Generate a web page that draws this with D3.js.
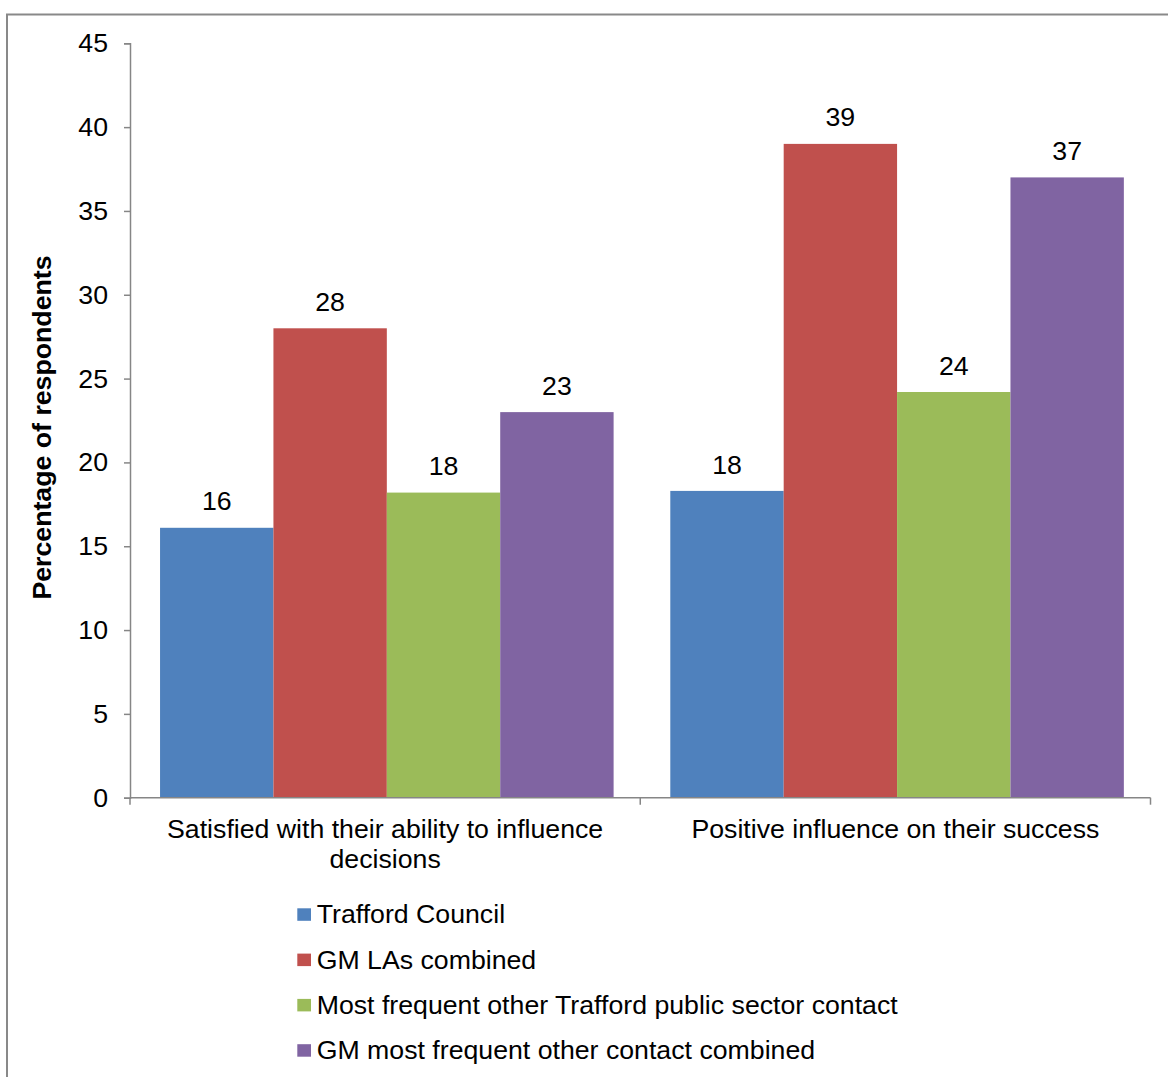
<!DOCTYPE html>
<html>
<head>
<meta charset="utf-8">
<script src="https://cdn.jsdelivr.net/npm/d3@7"></script>
<style>
  html, body { margin: 0; padding: 0; background: #fff; }
  svg { display: block; font-family: "Liberation Sans", Arial, sans-serif; }
</style>
</head>
<body>
<svg id="chart" width="1168" height="1077"></svg>
<script>
const categories = [
  "Satisfied with their ability to influence decisions",
  "Positive influence on their success"
];
const seriesNames = [
  "Trafford Council",
  "GM LAs combined",
  "Most frequent other Trafford public sector contact",
  "GM most frequent other contact combined"
];
const trafford = [16.1, 18.3];
const gmLAs = [28.0, 39.0];
const mostFrequentTrafford = [18.2, 24.2];
const gmMostFrequent = [23.0, 37.0];
const yTicks = [0, 5, 10, 15, 20, 25, 30, 35, 40, 45];
const yTitle = "Percentage of respondents";
const colors = ["#4F81BD", "#C0504D", "#9BBB59", "#8064A2"];

const seriesValues = [trafford, gmLAs, mostFrequentTrafford, gmMostFrequent];

const svg = d3.select("#chart");
const FS = 26.7;

// outer border
svg.append("rect")
  .attr("x", 7).attr("y", 14.5)
  .attr("width", 1300).attr("height", 1200)
  .attr("fill", "none")
  .attr("stroke", "#898989")
  .attr("stroke-width", 2);

const y = d3.scaleLinear().domain([0, 45]).range([797.7, 43.3]);
const x0 = d3.scaleBand().domain(categories).range([130, 1150.5]).paddingInner(0).paddingOuter(0);
const x1 = d3.scaleBand().domain(seriesNames).range([0, x0.bandwidth()]).paddingInner(0).paddingOuter(0.25).align(0.53);

// bars
const g = svg.append("g");
categories.forEach((cat, ci) => {
  seriesNames.forEach((s, si) => {
    const v = seriesValues[si][ci];
    g.append("rect")
      .attr("x", x0(cat) + x1(s))
      .attr("y", y(v))
      .attr("width", x1.bandwidth())
      .attr("height", y(0) - y(v))
      .attr("fill", colors[si]);
    g.append("text")
      .attr("x", x0(cat) + x1(s) + x1.bandwidth() / 2)
      .attr("y", y(v) - 17.4)
      .attr("text-anchor", "middle")
      .attr("font-size", FS)
      .attr("fill", "#000")
      .text(d3.format(".0f")(v));
  });
});

// y axis
const yAxis = d3.axisLeft(y).tickValues(yTicks).tickSize(6).tickPadding(16).tickFormat(d3.format("d"));
const ya = svg.append("g").attr("transform", "translate(130,0)").call(yAxis);
ya.select(".domain").attr("stroke", "#868686").attr("stroke-width", 1.5);
ya.selectAll(".tick line").attr("stroke", "#868686").attr("stroke-width", 1.5);
ya.selectAll(".tick text").attr("font-size", FS).attr("fill", "#000")
  .attr("font-family", "'Liberation Sans', Arial, sans-serif");

// x axis line & ticks at category boundaries
const xBoundaries = [130, ...categories.map(c => x0(c) + x0.bandwidth())];
svg.append("line")
  .attr("x1", 130).attr("x2", 1150.5)
  .attr("y1", y(0)).attr("y2", y(0))
  .attr("stroke", "#868686").attr("stroke-width", 1.5);
xBoundaries.forEach(bx => {
  svg.append("line")
    .attr("x1", bx).attr("x2", bx)
    .attr("y1", y(0)).attr("y2", y(0) + 7)
    .attr("stroke", "#868686").attr("stroke-width", 1.5);
});

// category labels with wrapping
function wrapLines(text, maxW) {
  const tmp = svg.append("text").attr("font-size", FS);
  const words = text.split(" ");
  const lines = [];
  let line = [];
  words.forEach(w => {
    const test = line.concat([w]).join(" ");
    tmp.text(test);
    if (tmp.node().getComputedTextLength() > maxW && line.length) {
      lines.push(line.join(" "));
      line = [w];
    } else {
      line.push(w);
    }
  });
  if (line.length) lines.push(line.join(" "));
  tmp.remove();
  return lines;
}
categories.forEach(cat => {
  const lines = wrapLines(cat, 460);
  const t = svg.append("text")
    .attr("x", x0(cat) + x0.bandwidth() / 2)
    .attr("y", 838.3)
    .attr("text-anchor", "middle")
    .attr("font-size", FS)
    .attr("fill", "#000");
  lines.forEach((ln, i) => {
    t.append("tspan")
      .attr("x", x0(cat) + x0.bandwidth() / 2)
      .attr("dy", i === 0 ? 0 : 29.6)
      .text(ln);
  });
});

// y title
svg.append("text")
  .attr("transform", "translate(51,427.5) rotate(-90)")
  .attr("text-anchor", "middle")
  .attr("font-size", FS)
  .attr("font-weight", "bold")
  .attr("fill", "#000")
  .text(yTitle);

// legend
const legend = svg.append("g");
seriesNames.forEach((s, i) => {
  const base = 923.3 + i * 45.3;
  legend.append("rect")
    .attr("x", 297.3).attr("y", base - 15)
    .attr("width", 13.7).attr("height", 12.5)
    .attr("fill", colors[i]);
  legend.append("text")
    .attr("x", 316.7).attr("y", base)
    .attr("font-size", FS)
    .attr("fill", "#000")
    .text(s);
});
</script>
</body>
</html>
